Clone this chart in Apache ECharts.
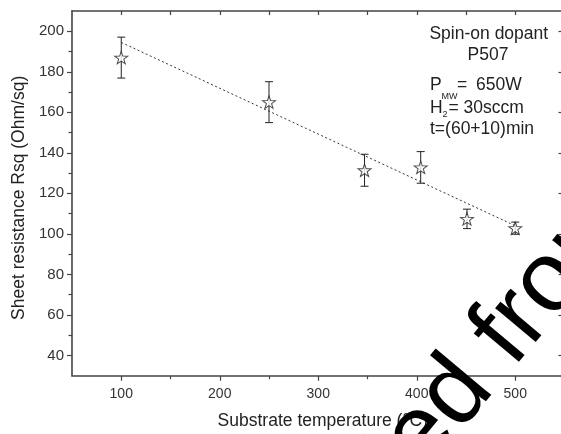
<!DOCTYPE html>
<html>
<head>
<meta charset="utf-8">
<script src="https://cdn.jsdelivr.net/npm/echarts@6/dist/echarts.min.js"></script>
<style>
  html, body { margin: 0; padding: 0; background: #fff; overflow: hidden; }
  #chart { width: 565px; height: 434px; }
</style>
</head>
<body>
<div id="chart"></div>
<script>
// Sheet resistance versus substrate temperature, spin-on dopant P507
const temperature = [100, 250, 347, 404, 451, 500];
const resistance = [187, 165, 131.4, 132.8, 107.4, 102.8];
const resistanceErr = [10.1, 10.1, 7.9, 7.8, 4.8, 3.0];

// linear fit line end points
const fitTemperature = [100, 500];
const fitResistance = [194.5, 104];

// tick positions
const xMajorTicks = [100, 200, 300, 400, 500];
const xMinorTicks = [150, 250, 350, 450];
const xTopTicks = [100, 150, 200, 250, 300, 350, 400, 450, 500];
const yMajorTicks = [40, 60, 80, 100, 120, 140, 160, 180, 200];
const yMinorTicks = [50, 70, 90, 110, 130, 150, 170, 190];

const FONT = 'Liberation Sans, Arial, Helvetica, sans-serif';
const INK = '#222';
const AXIS = '#444';

const STAR = 'path://M0,-10 L2.35,-3.24 L9.51,-3.09 L3.8,1.24 L5.88,8.09 L0,4 L-5.88,8.09 L-3.8,1.24 L-9.51,-3.09 L-2.35,-3.24 Z';

const points = temperature.map((t, i) => [t, resistance[i]]);
const errBars = temperature.map((t, i) => [t, resistance[i], resistanceErr[i]]);
const fitLine = fitTemperature.map((t, i) => [t, fitResistance[i]]);

const X_MIN = 50, X_MAX = 550, Y_MIN = 30, Y_MAX = 210;

function baseX(extra) {
  return Object.assign({
    type: 'value', min: X_MIN, max: X_MAX, splitLine: { show: false },
    axisLine: { show: false }, axisLabel: { show: false }, axisTick: { show: false }
  }, extra);
}
function baseY(extra) {
  return Object.assign({
    type: 'value', min: Y_MIN, max: Y_MAX, splitLine: { show: false },
    axisLine: { show: false }, axisLabel: { show: false }, axisTick: { show: false }
  }, extra);
}

function label(text, x, y, size, align) {
  return {
    type: 'text', x: x, y: y,
    style: {
      text: text, font: size + 'px ' + FONT, fill: INK,
      textAlign: align || 'left', align: align || 'left',
      textVerticalAlign: 'middle', verticalAlign: 'middle'
    }
  };
}

const chart = echarts.init(document.getElementById('chart'), null, { renderer: 'canvas' });

const option = {
  backgroundColor: '#fff',
  animation: false,
  grid: { left: 72, top: 11, right: 0.5, bottom: 58.3, containLabel: false, outerBoundsMode: 'none' },
  xAxis: [
    baseX({
      position: 'bottom',
      axisLine: { show: true, onZero: false, lineStyle: { color: AXIS, width: 1.6 } },
      axisTick: { show: true, inside: false, length: 5, customValues: xMajorTicks, lineStyle: { color: AXIS, width: 1.2 } },
      axisLabel: { show: true, customValues: xMajorTicks, margin: 11, color: '#333', fontSize: 14, fontFamily: FONT },
      name: 'Substrate temperature (°C)',
      nameLocation: 'middle',
      nameGap: 36,
      nameTextStyle: { fontSize: 17.5, fontFamily: FONT, color: INK, padding: [0, 0, 0, 9] }
    }),
    baseX({
      position: 'bottom',
      axisTick: { show: true, inside: false, length: 3.5, customValues: xMinorTicks, lineStyle: { color: AXIS, width: 1.2 } }
    }),
    baseX({
      position: 'top',
      axisLine: { show: true, onZero: false, lineStyle: { color: AXIS, width: 1.6 } },
      axisTick: { show: true, inside: true, length: 4, customValues: xTopTicks, lineStyle: { color: AXIS, width: 1.2 } }
    })
  ],
  yAxis: [
    baseY({
      position: 'left',
      axisLine: { show: true, onZero: false, lineStyle: { color: AXIS, width: 1.6 } },
      axisTick: { show: true, inside: false, length: 5, customValues: yMajorTicks, lineStyle: { color: AXIS, width: 1.2 } },
      axisLabel: { show: true, customValues: yMajorTicks, margin: 8, color: '#333', fontSize: 15, fontFamily: FONT },
      name: 'Sheet resistance Rsq (Ohm/sq)',
      nameLocation: 'middle',
      nameGap: 44,
      nameTextStyle: { fontSize: 17.5, fontFamily: FONT, color: INK, padding: [0, 9, 0, 0] }
    }),
    baseY({
      position: 'left',
      axisTick: { show: true, inside: false, length: 3.5, customValues: yMinorTicks, lineStyle: { color: AXIS, width: 1.2 } }
    }),
    baseY({
      position: 'right',
      axisLine: { show: true, onZero: false, lineStyle: { color: AXIS, width: 1.6 } },
      axisTick: { show: true, inside: true, length: 6, customValues: yMajorTicks, lineStyle: { color: AXIS, width: 1.2 } }
    })
  ],
  series: [
    {
      name: 'fit',
      type: 'line',
      xAxisIndex: 0, yAxisIndex: 0,
      data: fitLine,
      symbol: 'none',
      silent: true,
      z: 2,
      lineStyle: { color: '#333', width: 1, type: [2, 2.5] }
    },
    {
      name: 'error',
      type: 'custom',
      xAxisIndex: 0, yAxisIndex: 0,
      data: errBars,
      z: 3,
      renderItem: function (params, api) {
        const x = api.value(0), y = api.value(1), e = api.value(2);
        const top = api.coord([x, y + e]);
        const bot = api.coord([x, y - e]);
        const cap = 4;
        const style = { stroke: INK, lineWidth: 1, fill: null };
        return {
          type: 'group',
          children: [
            { type: 'line', shape: { x1: top[0], y1: top[1], x2: bot[0], y2: bot[1] }, style: style },
            { type: 'line', shape: { x1: top[0] - cap, y1: top[1], x2: top[0] + cap, y2: top[1] }, style: style },
            { type: 'line', shape: { x1: bot[0] - cap, y1: bot[1], x2: bot[0] + cap, y2: bot[1] }, style: style }
          ]
        };
      }
    },
    {
      name: 'Rsq',
      type: 'scatter',
      xAxisIndex: 0, yAxisIndex: 0,
      data: points,
      z: 4,
      symbol: STAR,
      symbolSize: [13, 12.4],
      itemStyle: { color: '#fff', borderColor: INK, borderWidth: 1 }
    }
  ],
  graphic: [
    label('Spin-on dopant', 488.8, 33.7, 17.5, 'center'),
    label('P507', 488, 55.2, 17.5, 'center'),
    label('P', 430, 84.7, 17.5),
    label('MW', 441.5, 96.5, 9),
    label('=', 457, 84.7, 17.5),
    label('650W', 476, 84.7, 17.5),
    label('H', 430, 108.3, 17.5),
    label('2', 442.5, 114.5, 9),
    label('= 30sccm', 448.5, 108.3, 17.5),
    label('t=(60+10)min', 430, 129.5, 17.5),
    // large diagonal stamp across the lower right
    { type: 'text', x: 117, y: 798, rotation: 50 * Math.PI / 180, z: 100, silent: true,
      style: { text: 'Downloaded from', font: '100px ' + FONT, fill: '#000', textVerticalAlign: 'middle', verticalAlign: 'middle' } }
  ]
};

chart.setOption(option);
</script>
</body>
</html>
